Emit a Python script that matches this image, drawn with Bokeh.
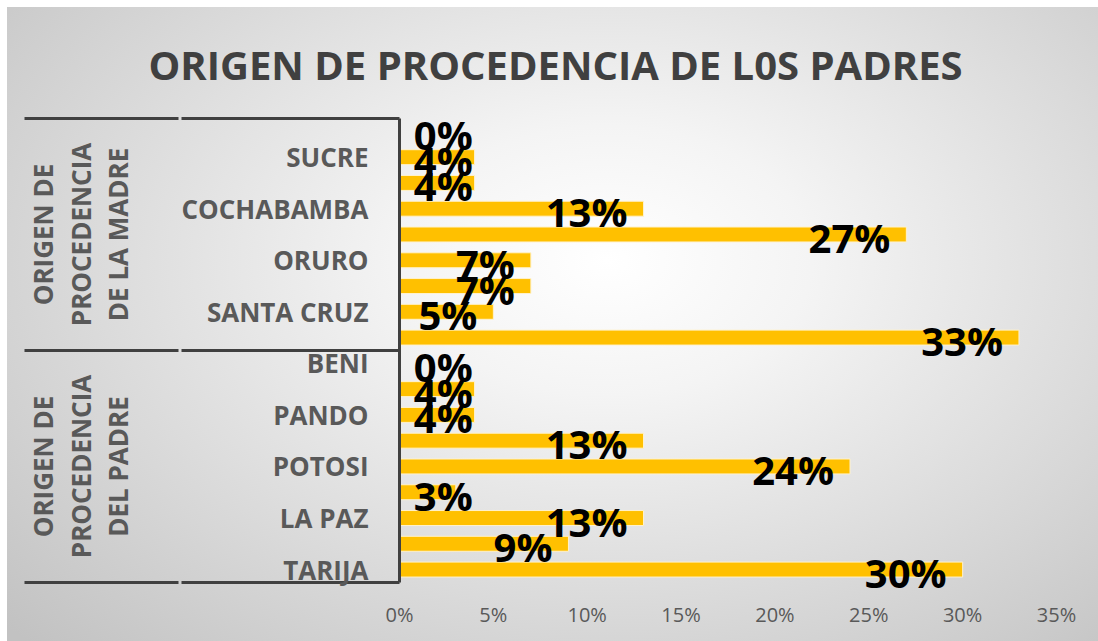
from bokeh.plotting import figure
from bokeh.models import (LinearAxis, FixedTicker, PrintfTickFormatter, Range1d, Title,
                          ColumnDataSource)
from bokeh.core.properties import value
from bokeh.embed import file_html
from bokeh.resources import INLINE

# ---------------- data ----------------
title = "ORIGEN DE PROCEDENCIA DE L0S PADRES"
groups = ["ORIGEN DE\nPROCEDENCIA\nDE LA MADRE", "ORIGEN DE\nPROCEDENCIA\nDEL PADRE"]
departments = ["BENI", "SUCRE", "PANDO", "COCHABAMBA", "POTOSI",
               "ORURO", "LA PAZ", "SANTA CRUZ", "TARIJA"]
madre = [0, 4, 4, 13, 27, 7, 7, 5, 33]
padre = [0, 4, 4, 13, 24, 3, 13, 9, 30]
# category labels actually printed on the axis (Excel skips every other one)
shown_madre = ["SUCRE", "COCHABAMBA", "ORURO", "SANTA CRUZ"]
shown_padre = ["BENI", "PANDO", "POTOSI", "LA PAZ", "TARIJA"]
x_ticks = [0, 5, 10, 15, 20, 25, 30, 35]

# ---------------- build ----------------
n = len(departments)
values = madre + padre
pos = list(range(2 * n))
cats = departments + departments
label_min = 4.75
src = ColumnDataSource(dict(
    y=pos, v=values,
    lx=[max(v, label_min) for v in values],
    txt=[f"{v}%" for v in values],
))

FONT = "Open Sans"
GRAY = "#595959"
DARK = "#404040"
Y_PAD = 0.39  # extra room below the last bar so its big label is not clipped

p = figure(width=1091, height=634, output_backend="svg", toolbar_location=None,
           x_range=Range1d(0, 35), y_range=Range1d(2 * n - 0.5 + Y_PAD, -0.5),
           x_axis_type=None, y_axis_type=None,
           min_border_left=392, min_border_right=42, min_border_top=111,
           min_border_bottom=49,
           styles={"background": "radial-gradient(ellipse 75% 85% at 55% 40%, #ffffff 0%, #f4f4f4 25%, #c2c2c2 100%)",
                   "margin-left": "7px", "margin-top": "7px"})
p.border_fill_alpha = 0
p.background_fill_alpha = 0
p.outline_line_color = None

boundaries = [-0.5, n - 0.5, 2 * n - 0.5]

# inner category axis
A_OUT = 218
shown_pos = [i for i, c in enumerate(departments) if c in shown_madre] + \
            [n + i for i, c in enumerate(departments) if c in shown_padre]
ax_a = LinearAxis(ticker=FixedTicker(ticks=shown_pos, minor_ticks=boundaries),
                  bounds=(boundaries[0], boundaries[-1]))
ax_a.major_label_overrides = {i: cats[i] for i in shown_pos}
ax_a.major_tick_line_color = None
ax_a.major_tick_out = 0
ax_a.major_tick_in = 0
ax_a.minor_tick_in = 0
ax_a.minor_tick_out = A_OUT
ax_a.minor_tick_line_color = DARK
ax_a.minor_tick_line_width = 3
ax_a.axis_line_color = DARK
ax_a.axis_line_width = 3
ax_a.major_label_standoff = 31 - A_OUT
ax_a.major_label_text_font = FONT
ax_a.major_label_text_font_style = "bold"
ax_a.major_label_text_font_size = "26px"
ax_a.major_label_text_color = GRAY
p.add_layout(ax_a, "left")

# outer group axis
B_OUT = 154
centers = [(n - 1) / 2, n + (n - 1) / 2]
ax_b = LinearAxis(ticker=FixedTicker(ticks=centers, minor_ticks=boundaries),
                  bounds=(boundaries[0], boundaries[-1]))
ax_b.major_label_overrides = {centers[0]: groups[0], centers[1]: groups[1]}
ax_b.major_label_orientation = "vertical"
ax_b.major_tick_line_color = None
ax_b.major_tick_out = 0
ax_b.major_tick_in = 0
ax_b.minor_tick_in = 0
ax_b.minor_tick_out = B_OUT
ax_b.minor_tick_line_color = DARK
ax_b.minor_tick_line_width = 3
ax_b.axis_line_color = None
ax_b.major_label_standoff = 42 - B_OUT
ax_b.major_label_text_font = FONT
ax_b.major_label_text_font_style = "bold"
ax_b.major_label_text_font_size = "26px"
ax_b.major_label_text_line_height = 1.05
ax_b.major_label_text_color = GRAY
p.add_layout(ax_b, "left")

# x axis
ax_x = LinearAxis(ticker=FixedTicker(ticks=x_ticks), formatter=PrintfTickFormatter(format="%d%%"))
ax_x.axis_line_color = None
ax_x.major_tick_line_color = None
ax_x.major_tick_in = 0
ax_x.major_tick_out = 0
ax_x.minor_tick_line_color = None
ax_x.major_label_standoff = 8
ax_x.major_label_text_font = FONT
ax_x.major_label_text_font_size = "20px"
ax_x.major_label_text_color = GRAY
p.add_layout(ax_x, "below")

p.xgrid.ticker = FixedTicker(ticks=x_ticks)
p.xgrid.grid_line_color = "#cccccc"
p.xgrid.grid_line_width = 1
p.ygrid.grid_line_color = None

p.hbar(y="y", right="v", left=0, height=0.58, source=src,
       fill_color="#FFC000", line_color="#fff2cc", line_width=1)

p.text(x="lx", y="y", text="txt", source=src, text_align="right", text_baseline="middle",
       x_offset=-16, y_offset=3, text_font=value(FONT), text_font_style="bold",
       text_font_size="40px", text_color="black")

p.add_layout(Title(text=title, align="left", offset=-251, standoff=53,
                   text_font=FONT, text_font_style="bold", text_font_size="40px",
                   text_color=DARK), "above")

open("out.html", "w").write(file_html(p, INLINE))
